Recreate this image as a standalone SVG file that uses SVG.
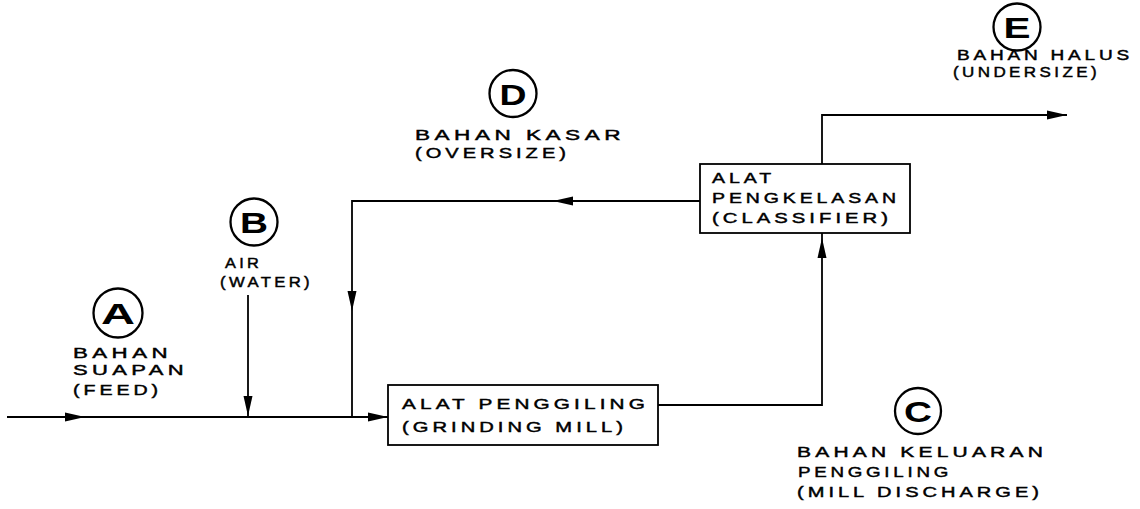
<svg xmlns="http://www.w3.org/2000/svg" xmlns:xlink="http://www.w3.org/1999/xlink" width="1140" height="509" viewBox="0 0 1140 509">
<style>
.t{font-family:"Liberation Sans",Arial,sans-serif;font-size:15px;letter-spacing:3px;fill:#000;stroke:#000;stroke-width:0.45}
.L{font-family:"Liberation Sans",Arial,sans-serif;font-size:30px;font-weight:bold;fill:#000;text-anchor:middle}
.c{fill:none;stroke:#000;stroke-width:2.3}
.box{fill:#fff;stroke:#000;stroke-width:1.8}
.ln{fill:none;stroke:#000;stroke-width:1.8}
</style>
<defs>
<path id="ah" d="M0,0 L-20,-4.5 L-20,4.5 Z" fill="#000"/>
</defs>
<rect width="1140" height="509" fill="#fff"/>
<g id="connectors">
<path class="ln" d="M7,417 H388"/>
<path class="ln" d="M248,295 V417"/>
<path class="ln" d="M700,201 H352 V417"/>
<path class="ln" d="M658,405 H822 V233"/>
<path class="ln" d="M822,164 V115 H1067"/>
<use xlink:href="#ah" transform="translate(85,417)"/>
<use xlink:href="#ah" transform="translate(388,417)"/>
<use xlink:href="#ah" transform="translate(248,416) rotate(90)"/>
<use xlink:href="#ah" transform="translate(352,311) rotate(90)"/>
<use xlink:href="#ah" transform="translate(553,201) rotate(180)"/>
<use xlink:href="#ah" transform="translate(822,238) rotate(-90)"/>
<use xlink:href="#ah" transform="translate(1067,115)"/>
</g>
<g id="mill">
<rect class="box" x="388" y="385" width="270" height="60"/>
<text class="t" x="402" y="409" textLength="247" lengthAdjust="spacingAndGlyphs">ALAT PENGGILING</text>
<text class="t" x="402" y="432" textLength="225" lengthAdjust="spacingAndGlyphs">(GRINDING MILL)</text>
</g>
<g id="classifier">
<rect class="box" x="700" y="164" width="210" height="69"/>
<text class="t" x="712" y="183" textLength="63" lengthAdjust="spacingAndGlyphs">ALAT</text>
<text class="t" x="712" y="203" textLength="188" lengthAdjust="spacingAndGlyphs">PENGKELASAN</text>
<text class="t" x="712" y="223" textLength="180" lengthAdjust="spacingAndGlyphs">(CLASSIFIER)</text>
</g>
<g id="A">
<circle class="c" cx="118" cy="313" r="24.5"/>
<text class="L" x="118" y="324" textLength="34" lengthAdjust="spacingAndGlyphs">A</text>
<text class="t" x="73" y="358" textLength="99" lengthAdjust="spacingAndGlyphs">BAHAN</text>
<text class="t" x="73" y="375" textLength="115" lengthAdjust="spacingAndGlyphs">SUAPAN</text>
<text class="t" x="73" y="395" textLength="89" lengthAdjust="spacingAndGlyphs">(FEED)</text>
</g>
<g id="B">
<circle class="c" cx="254" cy="222" r="23.5"/>
<text class="L" x="254" y="233" textLength="28" lengthAdjust="spacingAndGlyphs">B</text>
<text class="t" x="225" y="268" textLength="37" lengthAdjust="spacingAndGlyphs">AIR</text>
<text class="t" x="220" y="287" textLength="93" lengthAdjust="spacingAndGlyphs">(WATER)</text>
</g>
<g id="D">
<circle class="c" cx="513" cy="93.5" r="23.5"/>
<text class="L" x="513" y="104.5" textLength="27" lengthAdjust="spacingAndGlyphs">D</text>
<text class="t" x="415" y="140" textLength="210" lengthAdjust="spacingAndGlyphs">BAHAN KASAR</text>
<text class="t" x="415" y="158" textLength="155" lengthAdjust="spacingAndGlyphs">(OVERSIZE)</text>
</g>
<g id="E">
<circle class="c" cx="1017" cy="27" r="23.5"/>
<text class="L" x="1017" y="38" textLength="27" lengthAdjust="spacingAndGlyphs">E</text>
<text class="t" x="957" y="60" textLength="176" lengthAdjust="spacingAndGlyphs">BAHAN HALUS</text>
<text class="t" x="953" y="77" textLength="147" lengthAdjust="spacingAndGlyphs">(UNDERSIZE)</text>
</g>
<g id="C">
<circle class="c" cx="918" cy="411" r="23"/>
<text class="L" x="918" y="422" textLength="28" lengthAdjust="spacingAndGlyphs">C</text>
<text class="t" x="797" y="457" textLength="250" lengthAdjust="spacingAndGlyphs">BAHAN KELUARAN</text>
<text class="t" x="798" y="477" textLength="154" lengthAdjust="spacingAndGlyphs">PENGGILING</text>
<text class="t" x="797" y="497" textLength="246" lengthAdjust="spacingAndGlyphs">(MILL DISCHARGE)</text>
</g>
</svg>
